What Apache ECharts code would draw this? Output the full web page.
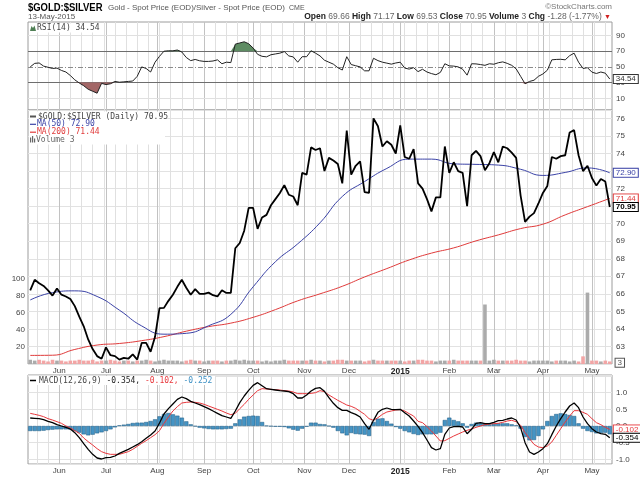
<!DOCTYPE html>
<html>
<head>
<meta charset="utf-8">
<title>$GOLD:$SILVER</title>
<script src="https://cdn.jsdelivr.net/npm/echarts@6/dist/echarts.min.js"></script>
<style>
  html, body { margin: 0; padding: 0; background: #fff; }
  #chart { width: 640px; height: 477px; }
</style>
</head>
<body>
<div id="chart"></div>
<script>
// gold/silver ratio, read every 2nd trading day (14-May-2014 .. 13-May-2015)
const price = [
  66.2, 66.8, 66.6, 66.45, 66.2, 65.9, 66.3, 65.95, 65.85, 65.7,
  65.3, 64.7, 64.15, 63.4, 62.85, 62.45, 62.3, 62.95, 62.5, 62.45,
  62.25, 62.35, 62.3, 62.55, 62.25, 63.2, 63.2, 62.7, 63.55, 65.18,
  65.2, 65.6, 65.95, 66.4, 66.8, 66.35, 65.95, 66.27, 66.0, 66.0,
  66.07, 65.92, 65.85, 66.2, 66.05, 66.05, 68.6, 68.9, 69.6, 70.9,
  70.9, 69.7, 70.35, 70.5, 71.05, 71.4, 71.75, 72.2, 71.65, 71.55,
  71.05, 72.9, 72.8, 74.35, 74.2, 74.3, 73.0, 73.75, 73.6, 73.4,
  72.3, 75.3, 72.8, 73.3, 73.55, 71.8, 71.75, 76.0, 75.55, 74.4,
  74.7, 74.5, 74.0, 75.6, 73.8, 73.7, 74.25, 72.3, 72.0, 71.4,
  70.7, 71.5, 71.5, 74.4, 72.9, 73.5, 73.0, 72.9, 71.0, 73.9,
  74.15, 73.85, 73.05, 73.45, 74.08, 73.5, 74.4, 74.3, 74.05, 73.75,
  71.6, 70.1, 70.4, 70.6, 71.15, 71.75, 72.15, 73.8, 73.7, 73.85,
  73.9, 75.2, 75.33, 73.9, 73.0, 73.3, 72.6, 72.17, 72.55, 72.4,
  70.95
];
// moving averages, every 10th trading day
const ma50 = [65.65, 66.07, 66.17, 65.85, 65.07, 64.17, 63.7, 63.75, 64.18, 64.83,
  66.4, 67.83, 68.85, 70.05, 71.55, 72.4, 73.15, 73.68, 73.68, 73.41,
  73.38, 73.34, 73.1, 72.75, 72.92, 73.18, 72.9];
const ma200 = [62.49, 62.5, 62.83, 63.08, 63.17, 63.33, 63.56, 63.87, 64.13, 64.33,
  64.66, 65.1, 65.6, 66.0, 66.43, 66.96, 67.44, 67.93, 68.32, 68.62,
  69.02, 69.36, 69.72, 69.97, 70.5, 70.97, 71.44];
const volume = [
  5, 4, 5, 4, 3, 5, 4, 4, 3, 4,  4, 5, 4, 4, 5, 3, 4, 4, 5, 4,
  3, 4, 4, 3, 4, 4, 5, 4, 3, 4,  5, 4, 4, 4, 3, 4, 5, 4, 4, 3,
  4, 4, 4, 3, 4, 4, 5, 4, 5, 4,  4, 4, 3, 4, 3, 4, 4, 5, 4, 4,
  4, 4, 4, 5, 4, 4, 3, 4, 4, 5,  5, 4, 4, 4, 4, 3, 4, 5, 4, 4,
  4, 4, 4, 4, 3, 4, 4, 5, 5, 4,  4, 3, 4, 4, 4, 5, 4, 4, 4, 4,
  4, 4, 70, 4, 5, 4, 4, 4, 4, 5,  4, 4, 3, 4, 4, 4, 4, 3, 4, 4,
  4, 3, 4, 3, 9, 84, 4, 4, 3, 4,  3
];
const rsi = [
  50, 54.5, 55, 51, 49.5, 48, 48.5, 45.5, 43.5, 39,
  33.5, 29.5, 26, 21.5, 19, 16.5, 29, 27.5, 28.5, 31.5,
  30.5, 31, 31.5, 32, 38, 50, 48, 43.5, 56, 63.5,
  70, 70.5, 70.5, 71.5, 69, 62, 58, 59.5, 57.8, 57,
  57, 57.5, 59, 54, 56, 55.5, 79, 80.5, 82, 79.5,
  74, 66, 63.5, 62.8, 65.5, 66.5, 67.5, 69.5, 64, 62.7,
  56, 63, 63, 70.5, 67.5, 64, 58.5, 56, 53.5, 49,
  46, 63, 53, 51.5, 50, 45, 45, 61, 58, 56,
  54.8, 53.5, 55, 56, 48.5, 47.2, 49, 44, 47, 43.5,
  41.5, 40, 43, 54, 51.3, 51, 50, 47, 39.5, 54,
  53.8, 53, 52, 54, 53.4, 55.3, 56.4, 54.5, 52, 47.5,
  38, 28.5, 31.5, 33, 38, 41, 45.8, 59, 59.5, 59.7,
  59, 64.3, 67.5, 56, 48, 49, 43.3, 41.6, 43.5, 42,
  34.54
];
const macd = [
  0.24, 0.23, 0.22, 0.19, 0.14, 0.1, 0.04, 0.0, -0.04, -0.09,
  -0.2, -0.35, -0.53, -0.7, -0.85, -0.96, -0.99, -0.95, -0.94, -0.9,
  -0.82, -0.76, -0.7, -0.63, -0.56, -0.47, -0.37, -0.27, -0.15, 0.09,
  0.36, 0.52, 0.66, 0.8, 0.87, 0.82, 0.74, 0.69, 0.64, 0.58,
  0.52, 0.45, 0.38, 0.31, 0.27, 0.23, 0.45, 0.7, 0.9, 1.07,
  1.22, 1.3, 1.21, 1.12, 1.1, 1.08, 1.06, 1.05, 1.03, 0.97,
  0.84, 0.84, 0.93, 1.05, 1.13, 1.15, 1.04, 0.85, 0.68, 0.55,
  0.47, 0.47, 0.4, 0.35, 0.27, 0.07, -0.1, 0.17, 0.41, 0.5,
  0.54, 0.5, 0.49, 0.5, 0.4, 0.3, 0.15, -0.01, -0.2, -0.42,
  -0.65, -0.72, -0.68, -0.25, -0.06, -0.02, -0.01, -0.03, -0.23, -0.1,
  0.08, 0.1, 0.07, 0.07, 0.11, 0.16, 0.17, 0.21, 0.24, 0.18,
  -0.05, -0.5, -0.78, -0.85, -0.78, -0.68, -0.53, -0.26, 0.0, 0.22,
  0.42, 0.6, 0.69, 0.55, 0.27, 0.07, -0.08, -0.18, -0.23, -0.25,
  -0.354
];
const signal = [
  0.38, 0.35, 0.32, 0.28, 0.22, 0.18, 0.13, 0.08, 0.0, -0.06,
  -0.14, -0.22, -0.36, -0.47, -0.57, -0.68, -0.77, -0.82, -0.85, -0.85,
  -0.85, -0.81, -0.77, -0.7, -0.61, -0.52, -0.44, -0.35, -0.26, -0.14,
  0.08, 0.27, 0.45, 0.58, 0.69, 0.71, 0.72, 0.71, 0.69, 0.65,
  0.6, 0.55, 0.5, 0.45, 0.39, 0.34, 0.38, 0.52, 0.65, 0.8,
  0.93, 1.06, 1.12, 1.11, 1.1, 1.09, 1.08, 1.06, 1.05, 1.02,
  0.97, 0.97, 0.97, 0.98, 1.0, 1.06, 1.03, 0.93, 0.85, 0.77,
  0.7, 0.63, 0.59, 0.53, 0.44, 0.35, 0.22, 0.17, 0.25, 0.35,
  0.42, 0.45, 0.48, 0.49, 0.45, 0.37, 0.3, 0.14, 0.1, -0.02,
  -0.15, -0.3, -0.45, -0.44, -0.37, -0.3, -0.24, -0.18, -0.13, -0.09,
  -0.04, 0.0, 0.04, 0.06, 0.07, 0.08, 0.11, 0.15, 0.17, 0.13,
  0.02, -0.2, -0.38, -0.55, -0.63, -0.65, -0.6, -0.48, -0.28, -0.08,
  0.12, 0.3, 0.46, 0.46, 0.41, 0.35, 0.22, 0.1, 0.04, -0.04,
  -0.102
];
const hist = [
  -0.15, -0.15, -0.15, -0.14, -0.12, -0.11, -0.1, -0.1, -0.1, -0.11,
  -0.15, -0.2, -0.25, -0.28, -0.26, -0.22, -0.19, -0.15, -0.1, -0.04,
  0.02, 0.04, 0.06, 0.09, 0.1, 0.1, 0.12, 0.15, 0.2, 0.29,
  0.36, 0.39, 0.35, 0.31, 0.25, 0.14, 0.05, -0.01, -0.05, -0.07,
  -0.09, -0.1, -0.1, -0.1, -0.09, -0.08, 0.08, 0.2, 0.28, 0.3,
  0.31, 0.3, 0.12, 0.01, -0.01, -0.02, -0.02, -0.03, -0.07, -0.11,
  -0.14, -0.08, -0.02, 0.1, 0.1, 0.06, 0.05, 0.0, -0.05, -0.15,
  -0.22, -0.28, -0.21, -0.24, -0.25, -0.26, -0.3, 0.12, 0.22, 0.23,
  0.15, 0.07, -0.03, -0.08, -0.15, -0.19, -0.24, -0.27, -0.25, -0.25,
  -0.25, -0.24, -0.2, 0.18, 0.25, 0.18, 0.14, 0.08, -0.05, 0.06,
  0.1, 0.09, 0.07, 0.05, 0.06, 0.08, 0.08, 0.08, 0.05, 0.02,
  -0.08, -0.33, -0.43, -0.42, -0.3, -0.1, 0.15, 0.3, 0.36, 0.38,
  0.36, 0.33, 0.3, 0.08, -0.08, -0.15, -0.18, -0.22, -0.21, -0.2,
  -0.25
];
const monthNames = ['Jan', 'Feb', 'Mar', 'Apr', 'May', 'Jun', 'Jul', 'Aug', 'Sep', 'Oct', 'Nov', 'Dec'];

// trading days (weekdays) on the x axis
const days = [];
for (let t = new Date(2014, 4, 14); days.length < 261; t.setDate(t.getDate() + 1)) {
    const wd = t.getDay();
    if (wd !== 0 && wd !== 6) days.push(new Date(t));
}
const monthStarts = [];
const monthLabel = {};
const mondays = [];
days.forEach((dt, d) => {
    if (dt.getDay() === 1) mondays.push(d);
    if (d > 0 && dt.getMonth() !== days[d - 1].getMonth()) {
        monthStarts.push(d);
        monthLabel[d] = dt.getMonth() === 0 ? '{b|' + dt.getFullYear() + '}' : monthNames[dt.getMonth()];
    }
});

const MONO = '"DejaVu Sans Mono", monospace';
const SANS = '"Liberation Sans", Arial, sans-serif';

function tag(color, bold) {
    return {
        show: true, distance: 4, fontSize: 8, lineHeight: 8, fontFamily: SANS,
        fontWeight: bold ? 'bold' : 'normal', color: color,
        backgroundColor: '#fff', borderColor: color, borderWidth: 1,
        padding: [0, 2, 0, 2]
    };
}

// week / month verticals (+ optional horizontals) for one panel
function gridLines(xi, yi, extra) {
    const lines = [];
    mondays.forEach(d => lines.push({ xAxis: d, lineStyle: { color: '#e0e0e0' } }));
    monthStarts.forEach(d => lines.push({ xAxis: d, lineStyle: { color: '#c2c2c2' } }));
    (extra || []).forEach(l => lines.push(l));
    return {
        type: 'line', xAxisIndex: xi, yAxisIndex: yi, data: [], silent: true, z: 0,
        markLine: {
            silent: true, symbol: ['none', 'none'], label: { show: false },
            lineStyle: { type: 'solid', width: 1 }, animation: false, z: 0,
            data: lines
        }
    };
}

function xAxisFor(gi, showLabels) {
    return {
        type: 'value', gridIndex: gi, min: -1, max: 261,
        axisLine: { show: false }, axisTick: { show: false }, splitLine: { show: false },
        axisLabel: {
            show: showLabels, customValues: monthStarts, margin: 3,
            fontSize: 8, color: '#444', fontFamily: SANS,
            formatter: v => monthLabel[v] || '',
            rich: { b: { fontWeight: 'bold', fontSize: 8.5, color: '#222', fontFamily: SANS } }
        }
    };
}

const axisText = { fontSize: 8, color: '#444', fontFamily: SANS };
const pts = arr => arr.map((v, i) => [2 * i, v]);
const maPts = arr => arr.map((v, k) => [10 * k, v]);

const volData = volume.map((v, i) => ({
    value: [2 * i, v],
    itemStyle: { color: v < 20 && i > 0 && price[i] < price[i - 1] ? '#f2a5a5' : '#ababab' }
}));
volData[volData.length - 1].label = Object.assign(tag('#555', false), { position: 'right', formatter: '3' });

// white box behind a panel legend
const legendBox = (x, y, w, h) => ({ type: 'rect', z: 1, shape: { x: x, y: y, width: w, height: h }, style: { fill: '#fff' } });

const chart = echarts.init(document.getElementById('chart'));
chart.setOption({
    animation: false,
    backgroundColor: '#fff',
    textStyle: { fontFamily: SANS },
    grid: [
        { left: 28, right: 28, top: 22, height: 88, show: true, borderColor: '#9c9c9c', borderWidth: 1 },
        { left: 28, right: 28, top: 110, height: 254, show: true, borderColor: '#9c9c9c', borderWidth: 1 },
        { left: 28, right: 28, top: 375, height: 89, show: true, borderColor: '#9c9c9c', borderWidth: 1 }
    ],
    xAxis: [xAxisFor(0, false), xAxisFor(1, true), xAxisFor(2, true)],
    yAxis: [
        {   // RSI
            type: 'value', gridIndex: 0, position: 'right', min: -4.9, max: 107.2,
            minInterval: 10, maxInterval: 10,
            axisLine: { show: false }, axisTick: { show: false }, splitLine: { show: false },
            axisLabel: Object.assign({ margin: 4, formatter: v => (v % 20 === 10 ? String(v) : '') }, axisText)
        },
        {   // price
            type: 'value', gridIndex: 1, position: 'right', min: 62, max: 76.48,
            minInterval: 1, maxInterval: 1,
            axisLine: { show: false }, axisTick: { show: false },
            splitLine: { lineStyle: { color: '#e2e2e2' } },
            axisLabel: Object.assign({
                margin: 4,
                formatter: v => (Number.isInteger(v) && v >= 63 && v !== 71 && v !== 73 ? String(v) : '')
            }, axisText)
        },
        {   // volume overlay
            type: 'value', gridIndex: 1, position: 'left', min: 0, max: 298.8,
            minInterval: 20, maxInterval: 20,
            axisLine: { show: false }, axisTick: { show: false }, splitLine: { show: false },
            axisLabel: Object.assign({ margin: 3, formatter: v => (v > 0 && v <= 100 ? String(v) : '') }, axisText)
        },
        {   // MACD
            type: 'value', gridIndex: 2, position: 'right', min: -1.14, max: 1.53,
            minInterval: 0.5, maxInterval: 0.5,
            axisLine: { show: false }, axisTick: { show: false },
            splitLine: { lineStyle: { color: '#e2e2e2' } },
            axisLabel: Object.assign({
                margin: 4,
                formatter: v => (Math.abs(v) <= 1.001 && Math.abs(v * 2 - Math.round(v * 2)) < 1e-6 ? v.toFixed(1) : '')
            }, axisText)
        }
    ],
    series: [
        gridLines(0, 0, [
            { yAxis: 90, lineStyle: { color: '#e0e0e0' } },
            { yAxis: 10, lineStyle: { color: '#e0e0e0' } },
            { yAxis: 70, lineStyle: { color: '#6e6e6e' } },
            { yAxis: 30, lineStyle: { color: '#6e6e6e' } },
            { yAxis: 50, lineStyle: { color: '#8a8a8a', type: [5, 2, 1, 2] } }
        ]),
        gridLines(1, 1),
        gridLines(2, 3),

        // RSI overbought / oversold fills
        { type: 'line', xAxisIndex: 0, yAxisIndex: 0, symbol: 'none', silent: true, z: 3,
          lineStyle: { opacity: 0 }, areaStyle: { color: '#5e8c63', opacity: 1, origin: 70 },
          data: rsi.map((v, i) => [2 * i, Math.max(v, 70)]) },
        { type: 'line', xAxisIndex: 0, yAxisIndex: 0, symbol: 'none', silent: true, z: 3,
          lineStyle: { opacity: 0 }, areaStyle: { color: '#a36666', opacity: 1, origin: 30 },
          data: rsi.map((v, i) => [2 * i, Math.min(v, 30)]) },
        { type: 'line', name: 'RSI(14)', xAxisIndex: 0, yAxisIndex: 0, symbol: 'none', z: 4,
          lineStyle: { color: '#222', width: 1 }, data: pts(rsi),
          endLabel: Object.assign(tag('#333', false), { formatter: '34.54' }) },

        // price panel
        { type: 'bar', name: 'Volume', xAxisIndex: 1, yAxisIndex: 2, barWidth: 3.6, data: volData },
        { type: 'line', name: 'MA(200)', xAxisIndex: 1, yAxisIndex: 1, symbol: 'none', smooth: true,
          lineStyle: { color: '#e03a3a', width: 1 }, data: maPts(ma200),
          endLabel: Object.assign(tag('#e03a3a', false), { formatter: '71.44' }) },
        { type: 'line', name: 'MA(50)', xAxisIndex: 1, yAxisIndex: 1, symbol: 'none', smooth: true,
          lineStyle: { color: '#3a42a6', width: 1 }, data: maPts(ma50),
          endLabel: Object.assign(tag('#3a42a6', false), { formatter: '72.90' }) },
        { type: 'line', name: '$GOLD:$SILVER', xAxisIndex: 1, yAxisIndex: 1, symbol: 'none', z: 4,
          lineStyle: { color: '#000', width: 1.8 }, data: pts(price),
          endLabel: Object.assign(tag('#000', true), { formatter: '70.95' }) },

        // MACD panel
        { type: 'bar', name: 'Histogram', xAxisIndex: 2, yAxisIndex: 3, barWidth: 4.2,
          itemStyle: { color: '#4594c4', borderColor: '#1f5b82', borderWidth: 0.5 }, data: pts(hist) },
        { type: 'line', name: 'Signal', xAxisIndex: 2, yAxisIndex: 3, symbol: 'none',
          lineStyle: { color: '#e8383d', width: 1 }, data: pts(signal),
          endLabel: Object.assign(tag('#e8383d', false), { formatter: '-0.102' }) },
        { type: 'line', name: 'MACD', xAxisIndex: 2, yAxisIndex: 3, symbol: 'none', z: 4,
          lineStyle: { color: '#000', width: 1.3 }, data: pts(macd),
          endLabel: Object.assign(tag('#000', false), { formatter: '-0.354' }) }
    ],
    graphic: [
        { type: 'text', x: 28, y: 8, scaleX: 0.86,
          style: { text: '$GOLD:$SILVER', font: 'bold 11px ' + SANS, fill: '#000', verticalAlign: 'middle' } },
        { type: 'text', x: 108, y: 8,
          style: { text: 'Gold - Spot Price (EOD)/Silver - Spot Price (EOD)', font: '8px ' + SANS, fill: '#555', verticalAlign: 'middle' } },
        { type: 'text', x: 289, y: 8,
          style: { text: 'CME', font: '7px ' + SANS, fill: '#555', verticalAlign: 'middle' } },
        { type: 'text', x: 28, y: 17,
          style: { text: '13-May-2015', font: '8px ' + SANS, fill: '#555', verticalAlign: 'middle' } },
        { type: 'text', x: 612, y: 7,
          style: { text: '\u00a9StockCharts.com', font: '8px ' + SANS, fill: '#777', align: 'right', verticalAlign: 'middle' } },
        { type: 'text', x: 611, y: 17,
          style: {
              text: '{k|Open} {v|69.66} {k|High} {v|71.17} {k|Low} {v|69.53} {k|Close} {v|70.95} {k|Volume} {v|3} {k|Chg} {v|-1.28 (-1.77%)} {r|\u25bc}',
              align: 'right', verticalAlign: 'middle', font: '8.5px ' + SANS,
              rich: {
                  k: { fontWeight: 'bold', fontSize: 8.5, fill: '#222', fontFamily: SANS },
                  v: { fontSize: 8.5, fill: '#666', fontFamily: SANS },
                  r: { fontSize: 7, fill: '#d02020', fontFamily: SANS }
              }
          } },

        // RSI legend
        legendBox(29, 23.5, 72, 9),
        { type: 'polygon', z: 2, shape: { points: [[30, 31], [31.5, 26], [33, 28], [34.5, 25.5], [36, 31]] },
          style: { fill: '#4f7f55' } },
        { type: 'text', z: 2, x: 37, y: 28,
          style: { text: 'RSI(14) 34.54', font: '8px ' + MONO, fill: '#444', verticalAlign: 'middle' } },

        // price legend
        legendBox(29, 111.5, 136, 33),
        { type: 'line', z: 2, shape: { x1: 30, y1: 116.5, x2: 36, y2: 116.5 }, style: { stroke: '#555', lineWidth: 2 } },
        { type: 'text', z: 2, x: 38, y: 116.5,
          style: { text: '$GOLD:$SILVER (Daily) 70.95', font: '8px ' + MONO, fill: '#444', verticalAlign: 'middle' } },
        { type: 'line', z: 2, shape: { x1: 30, y1: 124.3, x2: 36, y2: 124.3 }, style: { stroke: '#3a42a6', lineWidth: 1.2 } },
        { type: 'text', z: 2, x: 37, y: 124.3,
          style: { text: 'MA(50) 72.90', font: '8px ' + MONO, fill: '#3a42a6', verticalAlign: 'middle' } },
        { type: 'line', z: 2, shape: { x1: 30, y1: 132.2, x2: 36, y2: 132.2 }, style: { stroke: '#e03a3a', lineWidth: 1.2 } },
        { type: 'text', z: 2, x: 37, y: 132.2,
          style: { text: 'MA(200) 71.44', font: '8px ' + MONO, fill: '#e03a3a', verticalAlign: 'middle' } },
        { type: 'rect', z: 2, shape: { x: 30, y: 137.5, width: 1.2, height: 5 }, style: { fill: '#666' } },
        { type: 'rect', z: 2, shape: { x: 32, y: 136, width: 1.2, height: 6.5 }, style: { fill: '#666' } },
        { type: 'rect', z: 2, shape: { x: 34, y: 138.5, width: 1.2, height: 4 }, style: { fill: '#666' } },
        { type: 'text', z: 2, x: 36, y: 140,
          style: { text: 'Volume 3', font: '8px ' + MONO, fill: '#666', verticalAlign: 'middle' } },

        // MACD legend
        legendBox(29, 376, 186, 9),
        { type: 'line', z: 2, shape: { x1: 30, y1: 380.5, x2: 36, y2: 380.5 }, style: { stroke: '#000', lineWidth: 1.5 } },
        { type: 'text', z: 2, x: 39, y: 380.5,
          style: {
              text: '{k|MACD(12,26,9)} {m|-0.354,} {s|-0.102,} {h|-0.252}',
              verticalAlign: 'middle', font: '8px ' + MONO,
              rich: {
                  k: { fontSize: 8, fill: '#444', fontFamily: MONO },
                  m: { fontSize: 8, fill: '#222', fontFamily: MONO },
                  s: { fontSize: 8, fill: '#e8383d', fontFamily: MONO },
                  h: { fontSize: 8, fill: '#3c90c4', fontFamily: MONO }
              }
          } }
    ]
});
</script>
</body>
</html>
